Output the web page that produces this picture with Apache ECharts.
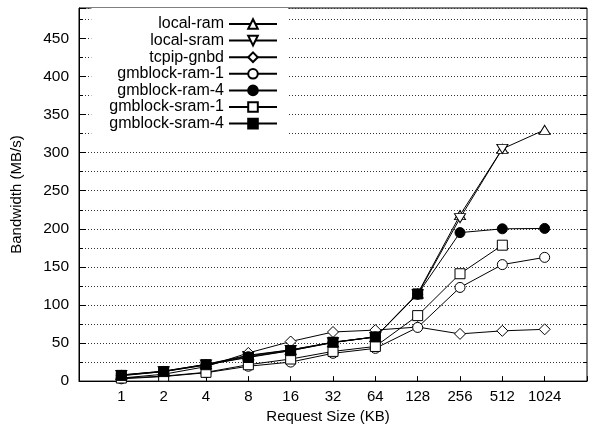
<!DOCTYPE html>
<html>
<head>
<meta charset="utf-8">
<script src="https://cdn.jsdelivr.net/npm/echarts@6/dist/echarts.min.js"></script>
<style>
html,body{margin:0;padding:0;background:#fff;}
#chart{width:590px;height:429px;}
</style>
</head>
<body>
<div id="chart"></div>
<script>
// Request sizes (KB) as tick labels; x position = index (log2 scale)
const xLabels = ['1','2','4','8','16','32','64','128','256','512','1024'];
const yTickStep = 50;

const localRam     = [8, 13, 22, 34, 41, 51, 58, 115, 218, 305, 330];
const localSram    = [8, 13, 22, 33, 41, 51, 58, 114, 214, 305];
const tcpipGnbd    = [4, 9, 19, 37, 52, 64.5, 67, 71, 62, 66, 68];
const gmRam1       = [3, 6, 11, 19.5, 25, 36.5, 43, 70.5, 123, 153, 162.5];
const gmRam4       = [7, 12.5, 21, 32, 40, 50.5, 58, 114, 195, 200, 200.5];
const gmSram1      = [4, 6.5, 11.5, 21.5, 29, 39, 45.5, 86, 141, 178.5];
const gmSram4      = [7.5, 12.5, 21.5, 31, 40, 51, 58, 114.5];

const seriesNames = ['local-ram','local-sram','tcpip-gnbd','gmblock-ram-1','gmblock-ram-4','gmblock-sram-1','gmblock-sram-4'];

function pts(arr){ return arr.map((v,i)=>[i,v]); }

const FONT = "'Liberation Sans', Arial, Helvetica, sans-serif";
const open = {color:'#fff', borderColor:'#000', borderWidth:1};
const filled = {color:'#000', borderColor:'#000', borderWidth:1};

function mk(name, data, symbol, size, style, rotate){
  return {
    name: name, type:'line', data: pts(data),
    symbol: symbol, symbolSize: size, symbolRotate: rotate || 0,
    showAllSymbol: true,
    lineStyle:{color:'#000', width:1},
    itemStyle: style,
    emphasis:{disabled:true},
    animation:false
  };
}

const chart = echarts.init(document.getElementById('chart'));
const yCommon = {type:'value', min:0, max:490, position:'left'};
chart.setOption({
  backgroundColor:'#fff',
  animation:false,
  grid:{left:79, right:-1, top:8, bottom:47.7, show:true, borderColor:'#000', borderWidth:1, backgroundColor:'transparent'},
  legend:{
    data: seriesNames,
    orient:'vertical',
    right:302, top:8,
    align:'right',
    itemWidth:48, itemHeight:12, itemGap:0.6,
    padding:[8,10,4,18],
    backgroundColor:'#fff',
    textStyle:{fontFamily:FONT, fontSize:16, color:'#000', lineHeight:15},
    selectedMode:false
  },
  xAxis:{
    type:'value', min:-1, max:11, interval:1,
    name:'Request Size (KB)', nameLocation:'middle', nameGap:26,
    nameTextStyle:{fontFamily:FONT, fontSize:15, color:'#000', padding:[0,10,0,0]},
    axisLine:{show:true, onZero:false, lineStyle:{color:'#000', width:1}},
    axisTick:{show:true, inside:true, length:5, lineStyle:{color:'#000'}},
    axisLabel:{fontFamily:FONT, fontSize:15, color:'#000', margin:8,
      formatter:function(v){ return (v>=0 && v<xLabels.length) ? xLabels[v] : ''; }},
    splitLine:{show:false}
  },
  yAxis:[
    Object.assign({}, yCommon, {
      interval: yTickStep,
      name:'Bandwidth (MB/s)', nameLocation:'middle', nameGap:55,
      nameTextStyle:{fontFamily:FONT, fontSize:15, color:'#000'},
      axisLine:{show:true, onZero:false, lineStyle:{color:'#000', width:1}},
      axisTick:{show:true, inside:true, length:7, lineStyle:{color:'#000'}},
      axisLabel:{fontFamily:FONT, fontSize:15.5, color:'#000', margin:10,
        formatter:function(v){ return (v % yTickStep === 0) ? String(v) : ''; }},
      splitLine:{show:false}
    }),
    Object.assign({}, yCommon, {
      interval: yTickStep/2,
      axisLine:{show:false, onZero:false},
      axisTick:{show:true, inside:true, length:4, lineStyle:{color:'#000'}},
      axisLabel:{show:false},
      splitLine:{show:true, lineStyle:{color:'#333', width:1, type:[1,2]}}
    }),
    Object.assign({}, yCommon, {
      position:'right', interval: yTickStep,
      axisLine:{show:false, onZero:false},
      axisTick:{show:true, inside:true, length:7, lineStyle:{color:'#000'}},
      axisLabel:{show:false}, splitLine:{show:false}
    }),
    Object.assign({}, yCommon, {
      position:'right', interval: yTickStep/2,
      axisLine:{show:false, onZero:false},
      axisTick:{show:true, inside:true, length:4, lineStyle:{color:'#000'}},
      axisLabel:{show:false}, splitLine:{show:false}
    })
  ],
  series:[
    mk('local-ram', localRam, 'triangle', [11,9], open),
    mk('local-sram', localSram, 'triangle', [11,9], open, 180),
    mk('tcpip-gnbd', tcpipGnbd, 'diamond', [11,11], open),
    mk('gmblock-ram-1', gmRam1, 'circle', 10, open),
    mk('gmblock-ram-4', gmRam4, 'circle', 10, filled),
    mk('gmblock-sram-1', gmSram1, 'rect', 10, open),
    mk('gmblock-sram-4', gmSram4, 'rect', 10, filled)
  ]
});
</script>
</body>
</html>
